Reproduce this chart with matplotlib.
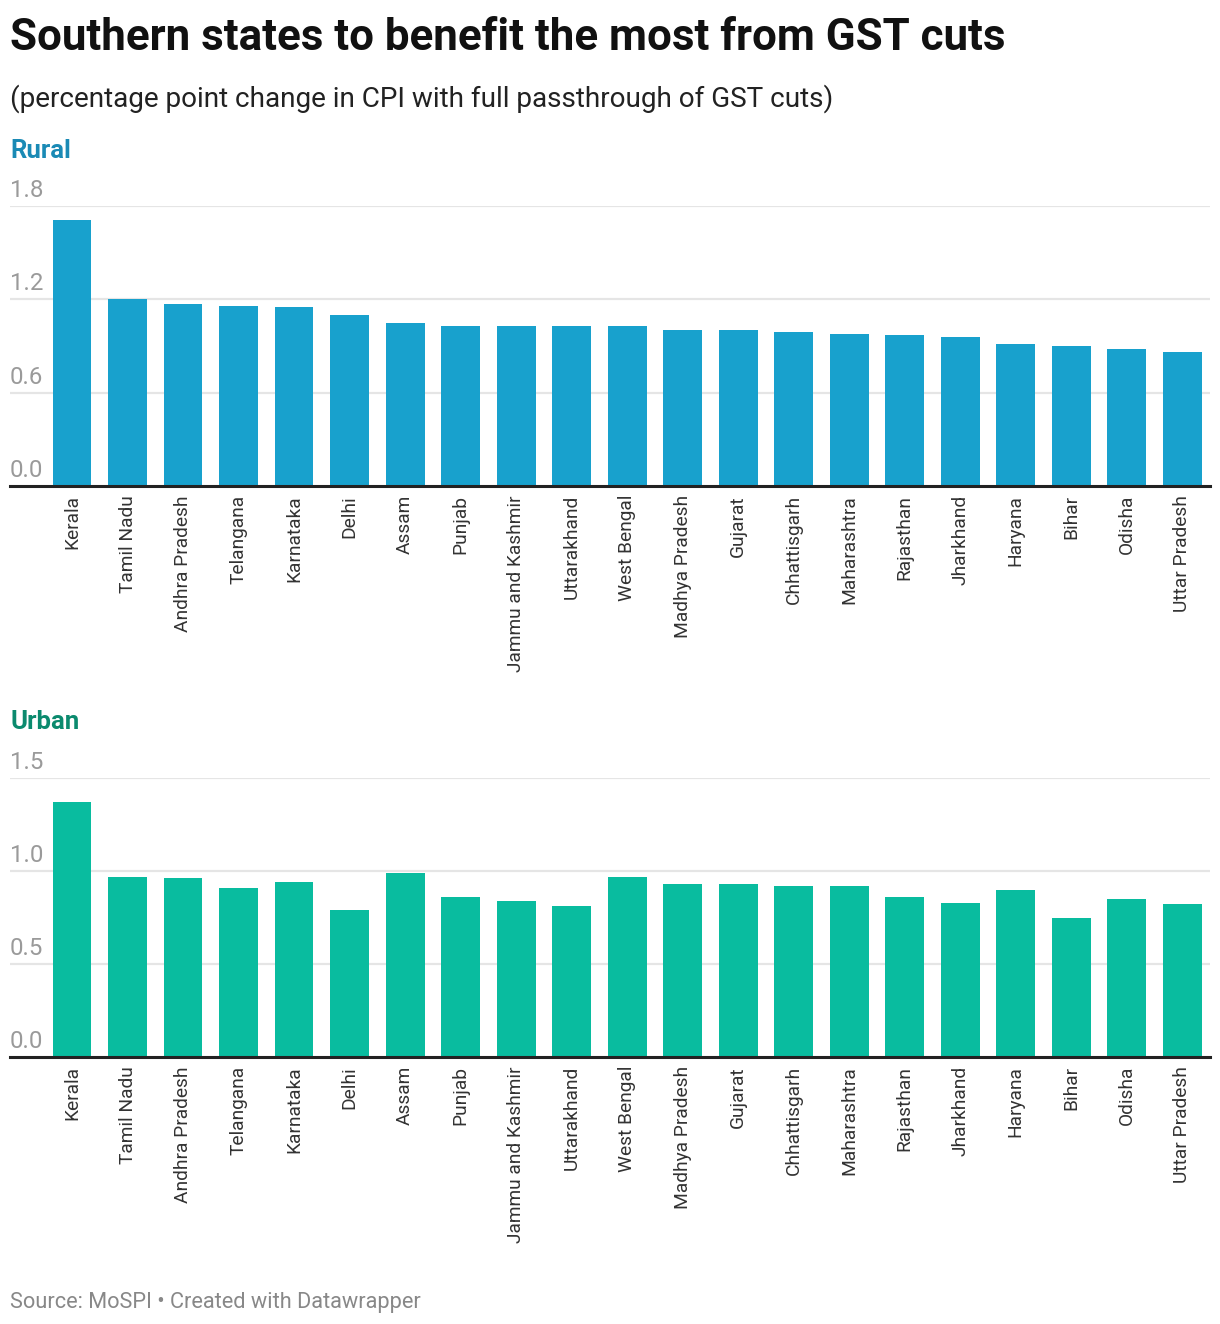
import matplotlib
matplotlib.use("Agg")
import matplotlib.pyplot as plt
import matplotlib.transforms as mtransforms

plt.rcParams['font.family'] = ['Roboto', 'DejaVu Sans']

# datos
states = ['Kerala', 'Tamil Nadu', 'Andhra Pradesh', 'Telangana', 'Karnataka',
          'Delhi', 'Assam', 'Punjab', 'Jammu and Kashmir', 'Uttarakhand',
          'West Bengal', 'Madhya Pradesh', 'Gujarat', 'Chhattisgarh',
          'Maharashtra', 'Rajasthan', 'Jharkhand', 'Haryana', 'Bihar',
          'Odisha', 'Uttar Pradesh']
rural = [1.71, 1.20, 1.17, 1.16, 1.15, 1.10, 1.05, 1.03, 1.03, 1.03,
         1.03, 1.00, 1.00, 0.99, 0.98, 0.97, 0.96, 0.91, 0.90, 0.88, 0.86]
urban = [1.37, 0.97, 0.96, 0.91, 0.94, 0.79, 0.99, 0.86, 0.84, 0.81,
         0.97, 0.93, 0.93, 0.92, 0.92, 0.86, 0.83, 0.90, 0.75, 0.85, 0.82]
rural_ticks = [0.0, 0.6, 1.2, 1.8]
urban_ticks = [0.0, 0.5, 1.0, 1.5]

W, H = 1220, 1324
fig = plt.figure(figsize=(W / 100, H / 100), dpi=100)


def fy(py):
    # pixel desde arriba -> fraccion de figura
    return 1 - py / H


def panel(top, bottom, vals, ticks, color):
    ax = fig.add_axes([10 / W, fy(bottom), 1200 / W, (bottom - top) / H])
    x = range(len(vals))
    ax.bar(x, vals, width=0.70, color=color, zorder=2)
    ax.set_xlim(-1.117, 20.5)
    ax.set_ylim(0, ticks[-1])
    for sp in ['top', 'right', 'left']:
        ax.spines[sp].set_visible(False)
    ax.spines['bottom'].set_color('#222222')
    ax.spines['bottom'].set_linewidth(2.2)
    ax.spines['bottom'].set_zorder(3)
    ax.set_yticks([])
    for t in ticks[1:]:
        ax.axhline(t, color='#e5e5e5', lw=1.6, zorder=1)
    off = mtransforms.offset_copy(ax.get_yaxis_transform(), fig=fig, x=0, y=6.5, units='points')
    for t in ticks:
        ax.text(0, t, f'{t:.1f}', transform=off, ha='left', va='baseline',
                fontsize=17.3, color='#9a9a9a')
    ax.set_xticks(list(x))
    ax.set_xticklabels(states, rotation=90, ha='center', va='top',
                       fontsize=13.8, color='#333333')
    ax.tick_params(axis='x', length=0, pad=6.5)
    return ax


panel(206, 486, rural, rural_ticks, '#18a1cd')
panel(778, 1057, urban, urban_ticks, '#09bc9f')

fig.text(10 / W, fy(50), 'Southern states to benefit the most from GST cuts',
         fontsize=31.6, fontweight='bold', color='#111111', va='baseline')
fig.text(10 / W, fy(107), '(percentage point change in CPI with full passthrough of GST cuts)',
         fontsize=20.1, color='#222222', va='baseline')
fig.text(10 / W, fy(158), 'Rural', fontsize=18.5, fontweight='bold',
         color='#1a8ab5', va='baseline')
fig.text(10 / W, fy(729), 'Urban', fontsize=18.5, fontweight='bold',
         color='#0b8a6e', va='baseline')
fig.text(10 / W, fy(1308), 'Source: MoSPI \u2022 Created with Datawrapper',
         fontsize=15.7, color='#888888', va='baseline')

fig.savefig('out.png', dpi=100, facecolor='white')
